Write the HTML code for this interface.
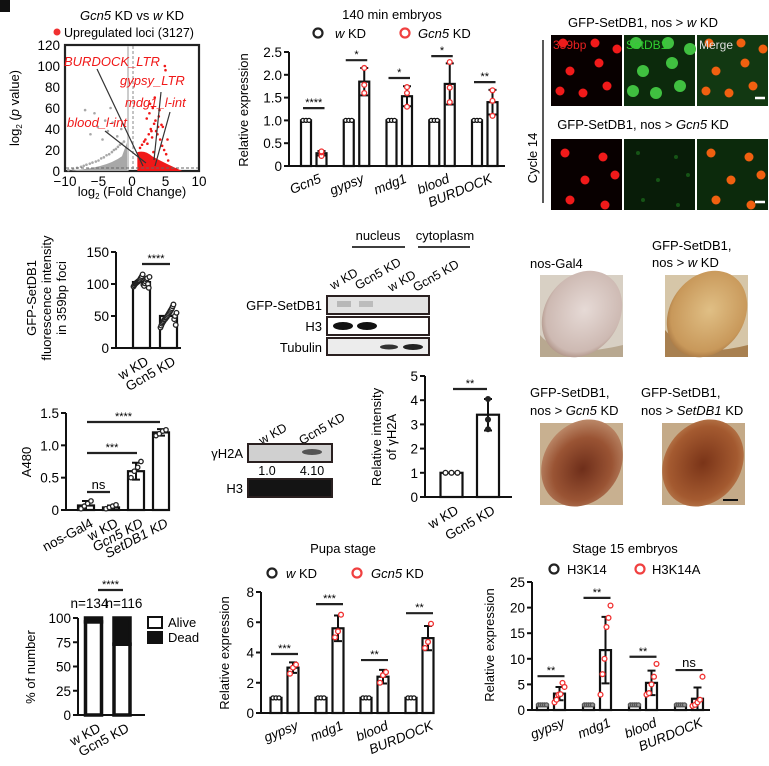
<!DOCTYPE html>
<html><head><meta charset="utf-8">
<style>
html,body{margin:0;padding:0;background:#fff;}
svg{display:block;font-family:"Liberation Sans",Arial,sans-serif;}
text{font-family:"Liberation Sans",Arial,sans-serif;}
</style></head>
<body>
<svg id="fig" xmlns="http://www.w3.org/2000/svg" width="769" height="766" viewBox="0 0 769 766">
<defs>
<radialGradient id="eye1" cx="50%" cy="45%" r="60%"><stop offset="0" stop-color="#e6dad6"/><stop offset="0.8" stop-color="#cdb9b2"/><stop offset="1" stop-color="#a08070"/></radialGradient>
<radialGradient id="eye2" cx="50%" cy="45%" r="60%"><stop offset="0" stop-color="#e0bf85"/><stop offset="0.8" stop-color="#c8985a"/><stop offset="1" stop-color="#9a6a3a"/></radialGradient>
<radialGradient id="eye3" cx="55%" cy="55%" r="60%"><stop offset="0" stop-color="#6e2e1a"/><stop offset="0.6" stop-color="#9a5434"/><stop offset="1" stop-color="#c09070"/></radialGradient>
<radialGradient id="eye4" cx="50%" cy="50%" r="60%"><stop offset="0" stop-color="#7a3418"/><stop offset="0.7" stop-color="#a45a30"/><stop offset="1" stop-color="#c0885a"/></radialGradient>
</defs>
<rect x="0" y="0" width="10" height="12" fill="#111"/>

<text x="132" y="20" font-size="13" text-anchor="middle"><tspan font-style="italic">Gcn5</tspan> KD vs <tspan font-style="italic">w</tspan> KD</text>
<circle cx="57" cy="32" r="3.5" fill="#f03030"/>
<text x="64" y="37" font-size="12.5">Upregulated loci (3127)</text>
<text transform="translate(19,108) rotate(-90)" font-size="13" text-anchor="middle">log<tspan font-size="8" dy="3">2</tspan><tspan dy="-3"> (</tspan><tspan font-style="italic">p</tspan> value)</text>
<text x="132" y="196" font-size="13" text-anchor="middle">log<tspan font-size="8" dy="3">2</tspan><tspan dy="-3"> (Fold Change)</tspan></text>
<g id="volcano"></g>

<text x="392" y="19" font-size="13" text-anchor="middle">140 min embryos</text>
<circle cx="318" cy="33" r="4.5" fill="none" stroke="#222" stroke-width="2.2"/>
<text x="335" y="38" font-size="13"><tspan font-style="italic">w</tspan> KD</text>
<circle cx="405" cy="33" r="4.5" fill="none" stroke="#f04040" stroke-width="2.2"/>
<text x="418" y="38" font-size="13"><tspan font-style="italic">Gcn5</tspan> KD</text>
<text transform="translate(248,110) rotate(-90)" font-size="13" text-anchor="middle">Relative expression</text>
<g id="pb"></g>

<text x="643" y="27" font-size="13" text-anchor="middle">GFP-SetDB1, nos &gt; <tspan font-style="italic">w</tspan> KD</text>
<text x="643" y="129" font-size="13" text-anchor="middle">GFP-SetDB1, nos &gt; <tspan font-style="italic">Gcn5</tspan> KD</text>
<text transform="translate(537,158) rotate(-90)" font-size="13" text-anchor="middle">Cycle 14</text>
<line x1="543" y1="40" x2="543" y2="203" stroke="#222" stroke-width="1.5"/>
<g id="micro"></g>

<text transform="translate(36,298) rotate(-90)" font-size="13" text-anchor="middle">GFP-SetDB1</text>
<text transform="translate(51,298) rotate(-90)" font-size="13" text-anchor="middle">fluorescence intensity</text>
<text transform="translate(66,298) rotate(-90)" font-size="13" text-anchor="middle">in 359bp foci</text>
<g id="pd"></g>

<text x="378" y="240" font-size="13" text-anchor="middle">nucleus</text>
<line x1="352" y1="247" x2="405" y2="247" stroke="#222" stroke-width="1.8"/>
<text x="445" y="240" font-size="13" text-anchor="middle">cytoplasm</text>
<line x1="418" y1="247" x2="470" y2="247" stroke="#222" stroke-width="1.8"/>
<text transform="translate(333,290) rotate(-30)" font-size="12.5">w KD</text>
<text transform="translate(358,290) rotate(-30)" font-size="12.5">Gcn5 KD</text>
<text transform="translate(391,292) rotate(-30)" font-size="12.5">w KD</text>
<text transform="translate(416,292) rotate(-30)" font-size="12.5">Gcn5 KD</text>
<text x="322" y="310" font-size="13" text-anchor="end">GFP-SetDB1</text>
<text x="322" y="331" font-size="13" text-anchor="end">H3</text>
<text x="322" y="352" font-size="13" text-anchor="end">Tubulin</text>
<rect x="327" y="296" width="102" height="18" fill="#e2e2e2" stroke="#2a2020" stroke-width="2"/>
<rect x="337" y="301" width="14" height="6" fill="#b8b8b8"/>
<rect x="359" y="301" width="14" height="6" fill="#bcbcbc"/>
<rect x="327" y="317" width="102" height="18" fill="#fff" stroke="#2a2020" stroke-width="2"/>
<ellipse cx="343" cy="326" rx="10" ry="4" fill="#111"/>
<ellipse cx="367" cy="326" rx="10" ry="4" fill="#111"/>
<rect x="327" y="338" width="102" height="17" fill="#ececec" stroke="#2a2020" stroke-width="2"/>
<ellipse cx="389" cy="347" rx="9" ry="2.5" fill="#333"/>
<ellipse cx="413" cy="347" rx="10" ry="3" fill="#222"/>

<text x="530" y="268" font-size="13">nos-Gal4</text>
<text x="652" y="250" font-size="13">GFP-SetDB1,</text>
<text x="652" y="267" font-size="13">nos &gt; <tspan font-style="italic">w</tspan> KD</text>
<text x="530" y="397" font-size="13">GFP-SetDB1,</text>
<text x="530" y="415" font-size="13">nos &gt; <tspan font-style="italic">Gcn5</tspan> KD</text>
<text x="641" y="397" font-size="13">GFP-SetDB1,</text>
<text x="641" y="415" font-size="13">nos &gt; <tspan font-style="italic">SetDB1</tspan> KD</text>
<g>
<rect x="540" y="275" width="83" height="82" fill="#d8d0c4"/>
<path d="M540,335 Q560,360 623,345 L623,357 L540,357Z" fill="#b8a890"/>
<ellipse cx="582" cy="314" rx="37" ry="46" transform="rotate(35 582 314)" fill="url(#eye1)"/>
</g>
<g>
<rect x="665" y="275" width="83" height="82" fill="#d6c6a8"/>
<path d="M665,330 Q690,360 748,345 L748,357 L665,357Z" fill="#a88050"/>
<ellipse cx="707" cy="314" rx="37" ry="46" transform="rotate(35 707 314)" fill="url(#eye2)"/>
</g>
<g>
<rect x="540" y="423" width="83" height="82" fill="#c8b090"/>
<ellipse cx="582" cy="463" rx="38" ry="46" transform="rotate(35 582 463)" fill="url(#eye3)"/>
</g>
<g>
<rect x="662" y="423" width="83" height="82" fill="#c4aa88"/>
<ellipse cx="703" cy="463" rx="38" ry="46" transform="rotate(35 703 463)" fill="url(#eye4)"/>
<line x1="723" y1="500" x2="738" y2="500" stroke="#111" stroke-width="2"/>
</g>

<text transform="translate(31,462) rotate(-90)" font-size="13" text-anchor="middle">A480</text>
<g id="pg"></g>

<text transform="translate(262,445) rotate(-30)" font-size="12.5">w KD</text>
<text transform="translate(302,445) rotate(-30)" font-size="12.5">Gcn5 KD</text>
<text x="243" y="458" font-size="13" text-anchor="end">γH2A</text>
<rect x="248" y="444" width="84" height="18" fill="#d0d0d0" stroke="#2a2020" stroke-width="2"/>
<ellipse cx="312" cy="452" rx="10" ry="3" fill="#555"/>
<text x="267" y="475" font-size="12.5" text-anchor="middle">1.0</text>
<text x="312" y="475" font-size="12.5" text-anchor="middle">4.10</text>
<text x="243" y="493" font-size="13" text-anchor="end">H3</text>
<rect x="248" y="479" width="84" height="18" fill="#141414" stroke="#2a2020" stroke-width="2"/>

<text transform="translate(381,437) rotate(-90)" font-size="13" text-anchor="middle">Relative intensity</text>
<text transform="translate(396,437) rotate(-90)" font-size="13" text-anchor="middle">of γH2A</text>
<g id="pi"></g>

<text transform="translate(35,667) rotate(-90)" font-size="13" text-anchor="middle">% of number</text>
<rect x="148" y="617" width="14" height="11" fill="#fff" stroke="#111" stroke-width="2"/>
<text x="168" y="627" font-size="13">Alive</text>
<rect x="148" y="632" width="14" height="11" fill="#111" stroke="#111" stroke-width="2"/>
<text x="168" y="642" font-size="13">Dead</text>
<g id="pj"></g>

<text x="343" y="553" font-size="13" text-anchor="middle">Pupa stage</text>
<circle cx="272" cy="573" r="4.5" fill="none" stroke="#222" stroke-width="2.2"/>
<text x="286" y="578" font-size="13"><tspan font-style="italic">w</tspan> KD</text>
<circle cx="357" cy="573" r="4.5" fill="none" stroke="#f04040" stroke-width="2.2"/>
<text x="371" y="578" font-size="13"><tspan font-style="italic">Gcn5</tspan> KD</text>
<text transform="translate(229,653) rotate(-90)" font-size="13" text-anchor="middle">Relative expression</text>
<g id="pk"></g>

<text x="625" y="553" font-size="13" text-anchor="middle">Stage 15 embryos</text>
<circle cx="554" cy="569" r="4.5" fill="none" stroke="#222" stroke-width="2.2"/>
<text x="567" y="574" font-size="13">H3K14</text>
<circle cx="640" cy="569" r="4.5" fill="none" stroke="#f04040" stroke-width="2.2"/>
<text x="652" y="574" font-size="13">H3K14A</text>
<text transform="translate(494,645) rotate(-90)" font-size="13" text-anchor="middle">Relative expression</text>
<g id="pl"></g>
</svg>

<script>
const NS = "http://www.w3.org/2000/svg";

const volXTicks = [-10, -5, 0, 5, 10];
const volYTicks = [0, 20, 40, 60, 80, 100, 120];
const volGrayX = [-9.5,-8.8,-8.2,-7.6,-7.2,-6.8,-6.3,-5.9,-5.4,-5.0,-4.6,-4.2,-3.8,-3.4,-3.0,-2.7,-2.4,-2.1,-1.8,-1.5,-1.2,-6.2,-5.1,-4.4,-3.6,-2.9,-2.2,-1.6,-7.0,-5.6,-4.0,-3.2];
const volGrayY = [1,2,3,4,5,6,7,8,9,10,12,13,15,16,18,20,21,23,25,26,28,35,42,30,38,46,33,40,58,55,48,60];
const volRedX = [1.2,1.5,1.8,2.0,2.3,2.5,2.8,3.0,3.3,3.6,3.9,4.2,4.5,4.8,5.1,5.4,2.2,2.6,3.1,3.5,4.0,4.4,4.9,2.7,3.4,4.1,5.0,3.8,4.6,5.3,2.9,3.2];
const volRedY = [22,25,28,30,26,35,40,32,45,38,42,30,24,20,16,10,50,55,60,48,52,44,100,64,70,58,96,35,42,30,38,18];
const bCats = ['Gcn5','gypsy','mdg1','blood','BURDOCK'];
const bTicks = [0,0.5,1.0,1.5,2.0,2.5];
const bTickLabels = ['0','0.5','1.0','1.5','2.0','2.5'];
const bWkd = [1,1,1,1,1];
const bGcn5 = [0.28,1.85,1.53,1.8,1.4];
const bGcn5Err = [0.05,0.3,0.22,0.45,0.27];
const bGcn5Pts = [[0.22,0.3,0.32],[1.6,1.78,2.15],[1.3,1.6,1.73],[1.4,1.72,2.28],[1.1,1.43,1.66]];
const bSig = ['****','*','*','*','**'];
const bSigY = [1.27,2.32,1.93,2.41,1.84];
const dCats = ['w KD','Gcn5 KD'];
const dTicks = [0,50,100,150];
const dMeans = [103,50];
const dPts = [[96,98,100,101,102,103,104,105,106,108,110,112,115,99,97,101,104,107,109,100,94,111],[32,35,38,40,42,44,45,47,48,50,52,54,56,58,60,62,65,68,45,50,36,55]];
const gCats = ['nos-Gal4','w KD','Gcn5 KD','SetDB1 KD'];
const gTicks = [0,0.5,1.0,1.5];
const gTickLabels = ['0','0.5','1.0','1.5'];
const gMeans = [0.07,0.04,0.6,1.2];
const gErr = [0.07,0.03,0.13,0.05];
const gPts = [[0.02,0.06,0.1,0.14],[0.02,0.04,0.06,0.08],[0.5,0.6,0.66,0.75],[1.15,1.18,1.22,1.24]];
const iCats = ['w KD','Gcn5 KD'];
const iTicks = [0,1,2,3,4,5];
const iMeans = [1,3.4];
const iErr = [0,0.65];
const iPts = [[1,1,1],[2.8,3.2,4.05]];
const jCats = ['w KD','Gcn5 KD'];
const jTicks = [0,25,50,75,100];
const jAlive = [96,73];
const jDead = [4,27];
const jN = ['n=134','n=116'];
const kCats = ['gypsy','mdg1','blood','BURDOCK'];
const kTicks = [0,2,4,6,8];
const kWkd = [1,1,1,1];
const kGcn5 = [3.0,5.6,2.4,4.95];
const kErr = [0.35,0.85,0.45,0.8];
const kPts = [[2.6,3.0,3.2],[5.0,5.4,6.5],[2.0,2.5,2.7],[4.3,4.7,5.9]];
const kSig = ['***','***','**','**'];
const kSigY = [3.9,7.2,3.5,6.6];
const lCats = ['gypsy','mdg1','blood','BURDOCK'];
const lTicks = [0,5,10,15,20,25];
const lH3K14 = [1,1,1,1];
const lH3K14A = [3.2,11.7,5.3,2.2];
const lErr = [1.3,6.5,2.4,2.2];
const lPts = [[1.5,2,3,3.1,5.3,4.5],[3,7,10,16.2,18,20.4],[3,3.3,5,6.5,9],[0.8,1,1.5,2,6.5]];
const lSig = ['**','**','**','ns'];
const lSigY = [6.6,21.9,10.4,7.8];

function mk(tag, attrs, parent){
  const e = document.createElementNS(NS, tag);
  for (const k in attrs) e.setAttribute(k, attrs[k]);
  parent.appendChild(e);
  return e;
}
function lin(d0,d1,r0,r1){ return v => r0 + (v-d0)/(d1-d0)*(r1-r0); }

function yAxis(g, x, y, ticks, labels, xEnd, name){
  const ax = mk('line',{x1:x,y1:y(ticks[ticks.length-1]),x2:x,y2:y(ticks[0]),stroke:'#111','stroke-width':2},g);
  
  
  const bx = mk('line',{x1:x-1,y1:y(ticks[0]),x2:xEnd,y2:y(ticks[0]),stroke:'#111','stroke-width':2},g);
  
  
  ticks.forEach((t,i)=>{
    const tk = mk('line',{x1:x-5,y1:y(t),x2:x,y2:y(t),stroke:'#111','stroke-width':2},g);
    
    
    const tl = mk('text',{x:x-7,y:y(t)+5,'font-size':13.5,'text-anchor':'end'},g);
    tl.textContent = labels ? labels[i] : String(t);
    
    
  });
}
function catLabel(g, cx, y0, txt, italic, name, rot){
  const t = mk('text',{transform:`translate(${cx+8},${y0+16}) rotate(${rot||-22})`,'font-size':13.5,'text-anchor':'end','font-style':italic?'italic':'normal'},g);
  t.textContent = txt;
  
  
}
function bar(g, cx, w, y, v, fill, name){
  const r = mk('rect',{x:cx-w/2,y:y(v),width:w,height:y(0)-y(v),fill:fill,stroke:'#111','stroke-width':2.2},g);
  
  
}
function errBar(g, cx, y, m, e, name){
  const l = mk('path',{d:`M${cx},${y(m+e)}V${y(Math.max(0,m-e))}M${cx-4},${y(m+e)}H${cx+4}M${cx-4},${y(Math.max(0,m-e))}H${cx+4}`,stroke:'#111','stroke-width':2,fill:'none'},g);
  
  
}
function pts(g, cx, y, arr, color, fill, spread, name, r){
  arr.forEach((v,i)=>{
    const off = arr.length>1 ? (i/(arr.length-1)-0.5)*spread : 0;
    const c = mk('circle',{cx:cx+off,cy:y(v),r:r||2.4,fill:fill,stroke:color,'stroke-width':1.3},g);
    
    
  });
}
function sig(g, x1, x2, yy, txt, name){
  const l = mk('line',{x1:x1,y1:yy,x2:x2,y2:yy,stroke:'#222','stroke-width':2.2},g);
  
  
  const t = mk('text',{x:(x1+x2)/2,y:txt==='ns'?yy-3:yy-2,'font-size':txt==='ns'?13:11,'text-anchor':'middle'},g);
  t.textContent = txt;
  
  
}

(function(){
  const g = document.getElementById('volcano');
  const x = lin(-10,10,65,199), y = lin(0,120,171,45);
  const box = mk('rect',{x:65,y:45,width:134,height:126,fill:'none',stroke:'#222','stroke-width':2.2},g);
  
  
  volYTicks.forEach(t=>{
    const tl = mk('text',{x:60,y:y(t)+5,'font-size':13.5,'text-anchor':'end'},g);
    tl.textContent = t;
    
    
  });
  volXTicks.forEach(t=>{
    const tl = mk('text',{x:x(t),y:186,'font-size':13.5,'text-anchor':'middle'},g);
    tl.textContent = t<0 ? '\u2212'+(-t) : t;
    
    
  });
  const cloudG = mk('path',{d:`M${x(-10)},${y(0)} Q${x(-4)},${y(2)} ${x(-1.5)},${y(14)} L${x(-0.7)},${y(28)} L${x(-0.5)},${y(0)} Z`,fill:'#a8a8a8'},g);
  
  
  const cloudR = mk('path',{d:`M${x(0.8)},${y(0)} L${x(0.8)},${y(18)} Q${x(2)},${y(20)} ${x(3)},${y(14)} Q${x(5)},${y(7)} ${x(7.5)},${y(0)} Z`,fill:'#f01818'},g);
  
  
  volGrayX.forEach((v,i)=>{
    const c = mk('circle',{cx:x(v),cy:y(volGrayY[i]),r:1.3,fill:'#a8a8a8'},g);
    
    
  });
  volRedX.forEach((v,i)=>{
    const c = mk('circle',{cx:x(v),cy:y(volRedY[i]),r:1.3,fill:'#f01818'},g);
    
    
  });
  const vl = mk('line',{x1:128,y1:46,x2:128,y2:170,stroke:'#ccc','stroke-width':2},g);
  
  
  const vr = mk('line',{x1:133,y1:46,x2:133,y2:170,stroke:'#888','stroke-width':1,'stroke-dasharray':'3,2'},g);
  
  
  const hl = mk('line',{x1:66,y1:168,x2:198,y2:168,stroke:'#666','stroke-width':1,'stroke-dasharray':'3,2'},g);
  
  
  const ann = [['BURDOCK_LTR',64,66,97,69,143,166],['gypsy_LTR',120,85,161,92,154,160],['mdg1_l-int',125,107,170,112,155,166],['blood_l-int',67,127,105,131,146,163]];
  ann.forEach(a=>{
    const l = mk('line',{x1:a[3],y1:a[4],x2:a[5],y2:a[6],stroke:'#333','stroke-width':1.2},g);
    
    
    const t = mk('text',{x:a[1],y:a[2],'font-size':13,'font-style':'italic',fill:'#f01818'},g);
    t.textContent = a[0];
    
    
  });
})();

(function(){
  const g = document.getElementById('pb');
  const y = lin(0,2.5,166,52);
  yAxis(g, 289, y, bTicks, bTickLabels, 505, 'embryo-140');
  bCats.forEach((c,i)=>{
    const cx = 306 + i*42.75, cx2 = cx+15.5;
    bar(g, cx, 10, y, bWkd[i], '#fff', 'bar-wkd-'+c);
    pts(g, cx, y, [1,1,1], '#111', '#fff', 6, 'point-wkd', 2);
    bar(g, cx2, 10, y, bGcn5[i], '#fff', 'bar-gcn5-'+c);
    errBar(g, cx2, y, bGcn5[i], bGcn5Err[i], 'errorbar-gcn5');
    pts(g, cx2, y, bGcn5Pts[i], '#f03030', '#fff', 0, 'point-gcn5', 2.4);
    sig(g, cx-3, cx2+3, y(bSigY[i]), bSig[i], 'sig-'+c);
    catLabel(g, cx+8, 166, c, true, 'x-label-'+c, -22);
  });
})();

(function(){
  const g = document.getElementById('micro');
  const cols = [551,624,697], rows = [35,139];
  const bgs = [['#080000','#0c2a0c','#123812'],['#080000','#081c08','#0c2a0c']];
  const dots = [[[8,2],[40,2],[62,8],[15,30],[44,22],[5,50],[28,52],[52,45]],[[10,8],[48,12],[30,35],[15,55],[50,60],[60,30]]];
  const names = [['micro-359bp-wkd','micro-setdb1-wkd','micro-merge-wkd'],['micro-359bp-gcn5','micro-setdb1-gcn5','micro-merge-gcn5']];
  rows.forEach((ry,ri)=>{
    cols.forEach((cx,ci)=>{
      const r = mk('rect',{x:cx,y:ry,width:71,height:71,fill:bgs[ri][ci]},g);
      
      
      dots[ri].forEach(d=>{
        let fill = ci===0 ? '#f01a1a' : (ci===2 ? '#f06010' : (ri===0 ? '#40c040' : '#207a20'));
        const c = mk('circle',{cx:cx+d[0]+4,cy:ry+d[1]+6,r:ci===1?(ri===0?6:2):4.5,fill:fill,opacity:ci===1&&ri===1?0.6:1},g);
        
        
      });
    });
    const sb = mk('line',{x1:755,y1:ry+63,x2:765,y2:ry+63,stroke:'#fff','stroke-width':2.5},g);
    
    
  });
  [['359bp','#e82020',553],['SetDB1','#30d030',626],['Merge','#ddd',699]].forEach(l=>{
    const t = mk('text',{x:l[2],y:49,'font-size':12,fill:l[1]},g);
    t.textContent = l[0];
    
    
  });
})();

(function(){
  const g = document.getElementById('pd');
  const y = lin(0,150,348,252);
  yAxis(g, 116, y, dTicks, null, 181, 'fluor');
  dCats.forEach((c,i)=>{
    const cx = 141.5 + i*27;
    bar(g, cx, 17, y, dMeans[i], '#fff', 'bar-fluor-'+c);
    pts(g, cx, y, dPts[i], '#222', '#fff', 16, 'point-fluor', 2.3);
    catLabel(g, cx, 348, c, false, 'fluor-x-label', -30);
  });
  sig(g, 142, 170, 264, '****', 'fluor-sig');
})();

(function(){
  const g = document.getElementById('pg');
  const y = lin(0,1.5,510,413);
  yAxis(g, 66, y, gTicks, gTickLabels, 170, 'a480');
  gCats.forEach((c,i)=>{
    const cx = 86 + i*25;
    bar(g, cx, 16, y, gMeans[i], '#fff', 'bar-a480-'+c);
    errBar(g, cx, y, gMeans[i], gErr[i], 'errorbar-a480');
    pts(g, cx, y, gPts[i], '#222', '#fff', 10, 'point-a480', 2.2);
    catLabel(g, cx, 510, c, i>=2, 'a480-x-label', -28);
  });
  sig(g, 87, 110, 492, 'ns', 'a480-sig-ns');
  sig(g, 87, 137, 453, '***', 'a480-sig-3');
  sig(g, 87, 160, 422, '****', 'a480-sig-4');
})();

(function(){
  const g = document.getElementById('pi');
  const y = lin(0,5,497,376);
  yAxis(g, 425, y, iTicks, null, 512, 'gh2a');
  iCats.forEach((c,i)=>{
    const cx = 451.5 + i*36.5;
    bar(g, cx, 22, y, iMeans[i], '#fff', 'bar-gh2a-'+c);
    errBar(g, cx, y, iMeans[i], iErr[i], 'errorbar-gh2a');
    pts(g, cx, y, iPts[i], '#222', i?'#222':'#fff', i?0:12, 'point-gh2a', 2.4);
    catLabel(g, cx, 497, c, false, 'gh2a-x-label', -30);
  });
  sig(g, 453, 487, 389, '**', 'gh2a-sig');
})();

(function(){
  const g = document.getElementById('pj');
  const y = lin(0,100,715,618);
  yAxis(g, 78, y, jTicks, null, 145, 'survival');
  jCats.forEach((c,i)=>{
    const cx = 93.5 + i*28.5;
    const a = mk('rect',{x:cx-8,y:y(jAlive[i]),width:16,height:y(0)-y(jAlive[i]),fill:'#fff',stroke:'#111','stroke-width':3.5},g);
    
    
    const d = mk('rect',{x:cx-8,y:y(jAlive[i]+jDead[i]),width:16,height:y(jAlive[i])-y(jAlive[i]+jDead[i]),fill:'#111',stroke:'#111','stroke-width':3.5},g);
    
    
    const n = mk('text',{x:cx-4+i*6,y:608,'font-size':13.5,'text-anchor':'middle'},g);
    n.textContent = jN[i];
    
    
    catLabel(g, cx, 715, c, false, 'survival-x-label', -28);
  });
  sig(g, 98, 123, 590, '****', 'survival-sig');
})();

(function(){
  const g = document.getElementById('pk');
  const y = lin(0,8,713,592);
  yAxis(g, 261, y, kTicks, null, 433, 'pupa');
  kCats.forEach((c,i)=>{
    const cx = 276 + i*45, cx2 = cx+17;
    bar(g, cx, 11, y, kWkd[i], '#fff', 'bar-pupa-wkd-'+c);
    pts(g, cx, y, [1,1,1], '#111', '#fff', 6, 'point-pupa-wkd', 2);
    bar(g, cx2, 11, y, kGcn5[i], '#fff', 'bar-pupa-gcn5-'+c);
    errBar(g, cx2, y, kGcn5[i], kErr[i], 'errorbar-pupa');
    pts(g, cx2, y, kPts[i], '#f03030', '#fff', 6, 'point-pupa-gcn5', 2.4);
    sig(g, cx-5, cx2+5, y(kSigY[i]), kSig[i], 'pupa-sig-'+c);
    catLabel(g, cx2-2, 713, c, true, 'pupa-x-label-'+c, -22);
  });
})();

(function(){
  const g = document.getElementById('pl');
  const y = lin(0,25,710,582);
  yAxis(g, 532, y, lTicks, null, 710, 'stage15');
  lCats.forEach((c,i)=>{
    const cx = 542.5 + i*46, cx2 = cx+17;
    bar(g, cx, 11, y, lH3K14[i], '#fff', 'bar-h3k14-'+c);
    pts(g, cx, y, [1,1,1,1,1], '#555', '#999', 8, 'point-h3k14', 2);
    bar(g, cx2, 11, y, lH3K14A[i], '#fff', 'bar-h3k14a-'+c);
    errBar(g, cx2, y, lH3K14A[i], lErr[i], 'errorbar-stage15');
    pts(g, cx2, y, lPts[i], '#f03030', '#fff', 10, 'point-h3k14a', 2.4);
    sig(g, cx-5, cx2+5, y(lSigY[i]), lSig[i], 'stage15-sig-'+c);
    catLabel(g, cx2-2, 710, c, true, 'stage15-x-label-'+c, -22);
  });
})();
</script>
</body></html>
